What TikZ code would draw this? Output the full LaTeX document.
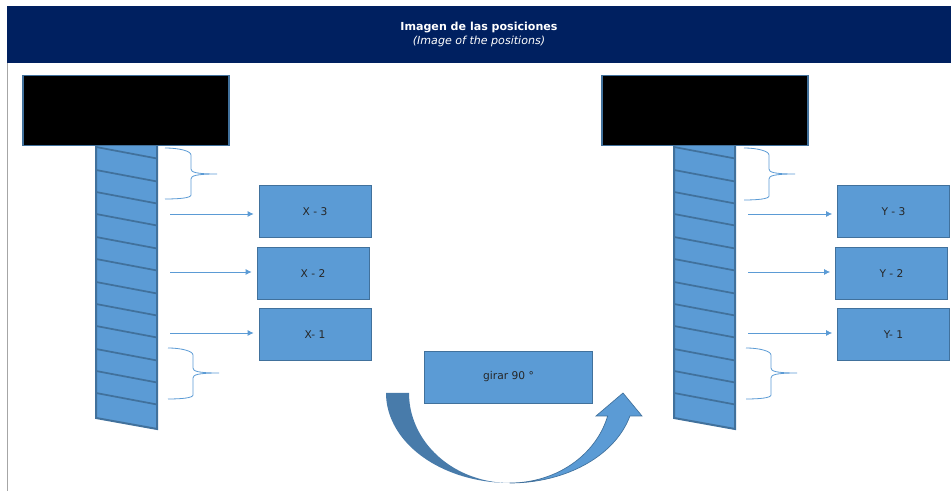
\documentclass[tikz,border=0pt]{standalone}
\usepackage{fontspec}
\setmainfont{DejaVu Sans}
\definecolor{navy}{HTML}{002060}
\definecolor{boxblue}{HTML}{5B9BD5}
\definecolor{edgeblue}{HTML}{41719C}
\definecolor{darkarc}{HTML}{487BAA}
\tikzset{
  px/.style={x=0.75pt,y=-0.75pt},
  bluebox/.style={draw=edgeblue,fill=boxblue,line width=0.6pt,minimum width=84pt,minimum height=38.5pt,inner sep=0pt,font=\fontsize{8}{10}\selectfont,text=black!85},
  blackbox/.style={draw=edgeblue,fill=black,line width=0.8pt,minimum width=154.5pt,minimum height=52pt,inner sep=0pt},
  shaftline/.style={draw=edgeblue,line width=1.5pt},
  bracket/.style={draw=boxblue,line width=0.6pt},
  pointer/.style={draw=boxblue,line width=0.6pt,-{Latex[length=4.5pt,width=4.5pt]},shorten >=3.75pt},
}
\usetikzlibrary{arrows.meta}
\newcommand{\screw}[1]{%
  \begin{scope}[xshift=#1*0.75pt]
    \path[fill=boxblue] (96,146) -- (157,146) -- (157,429) -- (96,418) -- cycle;
    \foreach \yy in {147,170,192,214,237,259,282,304,326,349,371,393}{
      \draw[shaftline,line width=1.3pt] (96,\yy) -- (157,\yy+11.5);
    }
    \draw[shaftline] (96,146) -- (96,418) -- (157,429) -- (157,146);
  \end{scope}}
\newcommand{\curlybr}[7]{% x0 x1 xtip ytop ymid ybot
  \draw[bracket] (#1,#4) .. controls (#2-12,#4) and (#2,#4+3) .. (#2,#4+7)
    -- (#2,#5-5) .. controls (#2,#5-2) and (#2+4,#5) .. (#3,#5+#7)
    .. controls (#2+4,#5) and (#2,#5+2) .. (#2,#5+5)
    -- (#2,#6-4) .. controls (#2,#6-1) and (#2-12,#6) .. (#1,#6);}
\begin{document}
\begin{tikzpicture}[px]
\useasboundingbox (0,0) rectangle (951,491);
\fill[white] (0,0) rectangle (951,491);
\draw[black!35,line width=0.6pt] (7,60) -- (7,491);
\node[fill=navy,minimum width=708pt,minimum height=42.75pt,inner sep=0pt,text=white,align=center,font=\fontsize{8.3}{11}\selectfont] (header) at (479,34.5)
  {\textbf{Imagen de las posiciones}\\[-0.5pt]\textit{(Image of the positions)}};

% screws
\screw{0}
\screw{578}
\node[blackbox] (hl) at (126,110.5) {};
\node[blackbox] (hr) at (705,110.5) {};

% braces
\curlybr{165}{191}{217}{148}{174}{199}{0}
\curlybr{168}{193}{219}{348}{373}{399}{0}
\curlybr{744}{769}{795}{148}{174}{200}{0}
\curlybr{746}{771}{797}{348}{373}{399}{0}

% boxes
\node[bluebox] (x3) at (315,211.5) {X - 3};
\node[bluebox] (x2) at (313,273.5) {X - 2};
\node[bluebox] (x1) at (315,334.5) {X- 1};
\node[bluebox] (y3) at (893.5,211.5) {Y - 3};
\node[bluebox] (y2) at (891.5,273.5) {Y - 2};
\node[bluebox] (y1) at (893.5,334.5) {Y- 1};
\node[bluebox,minimum width=126.5pt,minimum height=39pt] (turn) at (508.5,377) {girar 90 °};

% pointers
\coordinate (ax3) at (170,214);
\coordinate (ax2) at (170,272);
\coordinate (ax1) at (170,333);
\coordinate (ay3) at (748,214);
\coordinate (ay2) at (748,272);
\coordinate (ay1) at (748,333);
\draw[pointer] (ax3) -- (ax3 -| x3.west);
\draw[pointer] (ax2) -- (ax2 -| x2.west);
\draw[pointer] (ax1) -- (ax1 -| x1.west);
\draw[pointer] (ay3) -- (ay3 -| y3.west);
\draw[pointer] (ay2) -- (ay2 -| y2.west);
\draw[pointer] (ay1) -- (ay1 -| y1.west);

% curved arrow
\fill[boxblue,draw=edgeblue,line width=0.5pt]
  plot[domain=90:14.8,samples=40] ({510+124*cos(\x)},{393+90*sin(\x)})
  -- (642,416) -- (623,393) -- (596,416) -- (608,416)
  -- plot[domain=14.8:90,samples=40] ({510+101*cos(\x)},{393+90*sin(\x)}) -- cycle;
\fill[darkarc]
  (386,393) -- (409,393)
  -- plot[domain=180:90,samples=40] ({510+101*cos(\x)},{393+90*sin(\x)})
  -- plot[domain=90:180,samples=40] ({510+124*cos(\x)},{393+90*sin(\x)}) -- cycle;
\end{tikzpicture}
\end{document}
